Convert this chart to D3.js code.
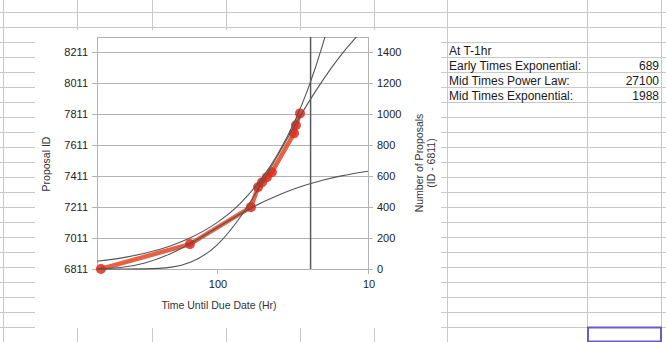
<!DOCTYPE html>
<html>
<head>
<meta charset="utf-8">
<script src="https://cdn.jsdelivr.net/npm/d3@7"></script>
<style>
body { margin: 0; background: #fff; }
svg { display: block; font-family: "Liberation Sans", Arial, sans-serif; }
</style>
</head>
<body>
<div id="dataviz"></div>
<script>
// Donnees
var hours = [587, 151, 59.6, 53.5, 50.3, 46.7, 43.3, 30.9, 30.0, 28.2];
var counts = [0, 161, 400, 529, 561, 594, 626, 877, 929, 1006];

// Courbes de tendance
var earlyExpHours = [623, 400, 300, 200, 150, 100, 70, 50, 40, 30, 20, 15, 10];
var earlyExpVals = [2, 15, 39, 102, 165, 267, 355, 431, 474, 522, 574, 602, 632];
var powerHours = [623, 400, 300, 200, 150, 100, 70, 50, 40, 30, 25, 20, 18];
var powerVals = [50, 77, 102, 152, 202, 300, 425, 591, 735, 973, 1163, 1447, 1604];
var midExpHours = [623, 400, 300, 200, 150, 100, 70, 50, 40, 30, 25, 20, 15, 12, 11.5];
var midExpVals = [0, 0, 1, 12, 43, 155, 336, 562, 727, 941, 1071, 1218, 1386, 1497, 1517];

var markerHour = 24;

var yTicks = [0, 200, 400, 600, 800, 1000, 1200, 1400];
var leftLabels = ["6811", "7011", "7211", "7411", "7611", "7811", "8011", "8211"];
var xTicks = [100, 10];

var tableLabels = ["At T-1hr", "Early Times Exponential:", "Mid Times Power Law:", "Mid Times Exponential:"];
var tableValues = ["", "689", "27100", "1988"];

var width = 666
var height = 342

var svg = d3.select("#dataviz").append("svg")
	.attr("width", width)
	.attr("height", height);

// grille du tableur
var gridColor = "#c8c8c8";
var rowYs = d3.range(12, 343, 15);
var colXs = [3, 77, 152, 226, 300, 374, 447, 587, 661];

svg.append("g").selectAll("line.row")
	.data(rowYs)
	.enter()
	.append("line")
	.attr("x1", 0).attr("x2", width)
	.attr("y1", d => d + 0.5).attr("y2", d => d + 0.5)
	.attr("stroke", gridColor);

svg.append("g").selectAll("line.col")
	.data(colXs)
	.enter()
	.append("line")
	.attr("x1", d => d + 0.5).attr("x2", d => d + 0.5)
	.attr("y1", 0).attr("y2", height)
	.attr("stroke", gridColor);

// tableau de droite
svg.append("g").selectAll("text")
	.data(tableLabels)
	.enter()
	.append("text")
	.attr("x", 449)
	.attr("y", (d, i) => 54.5 + i * 15)
	.attr("font-size", "12px")
	.attr("fill", "#1a1a1a")
	.text(d => d);

svg.append("g").selectAll("text")
	.data(tableValues)
	.enter()
	.append("text")
	.attr("x", 659)
	.attr("y", (d, i) => 54.5 + i * 15)
	.attr("text-anchor", "end")
	.attr("font-size", "12px")
	.attr("fill", "#1a1a1a")
	.text(d => d);

// cellule selectionnee
svg.append("rect")
	.attr("x", 588).attr("y", 327.5)
	.attr("width", 73).attr("height", 14)
	.attr("fill", "none")
	.attr("stroke", "#6b5bc6")
	.attr("stroke-width", 2);

// fond du graphique
svg.append("rect")
	.attr("x", 35).attr("y", 30)
	.attr("width", 406).attr("height", 298)
	.attr("fill", "#fff");

// echelles
var x = d3.scaleLog().domain([623, 10]).range([97, 368]);
var y = d3.scaleLinear().domain([0, 1500]).range([269, 37]);

var chart = svg.append("g");

// lignes de grille
chart.selectAll("line.grid")
	.data(yTicks)
	.enter()
	.append("line")
	.attr("x1", 92).attr("x2", 373)
	.attr("y1", d => Math.round(y(d)) + 0.5)
	.attr("y2", d => Math.round(y(d)) + 0.5)
	.attr("stroke", "#b3b3b3");

chart.append("rect")
	.attr("x", 97.5).attr("y", 37.5)
	.attr("width", 271).attr("height", 232)
	.attr("fill", "none")
	.attr("stroke", "#b3b3b3");

chart.selectAll("line.xtick")
	.data(xTicks)
	.enter()
	.append("line")
	.attr("x1", d => Math.round(x(d)) + 0.5)
	.attr("x2", d => Math.round(x(d)) + 0.5)
	.attr("y1", 269).attr("y2", 274)
	.attr("stroke", "#b3b3b3");

// labels des axes
chart.selectAll("text.left")
	.data(yTicks)
	.enter()
	.append("text")
	.attr("x", 88)
	.attr("y", d => y(d) + 4)
	.attr("text-anchor", "end")
	.attr("font-size", "11px")
	.attr("fill", "#222")
	.text((d, i) => leftLabels[i]);

chart.selectAll("text.right")
	.data(yTicks)
	.enter()
	.append("text")
	.attr("x", 377)
	.attr("y", d => y(d) + 4)
	.attr("font-size", "11px")
	.attr("fill", "#222")
	.text(d => d);

chart.selectAll("text.x")
	.data(xTicks)
	.enter()
	.append("text")
	.attr("x", d => x(d) + 1)
	.attr("y", 288)
	.attr("text-anchor", "middle")
	.attr("font-size", "11px")
	.attr("fill", "#222")
	.text(d => d);

// titres
chart.append("text")
	.attr("transform", "translate(50,164) rotate(-90)")
	.attr("text-anchor", "middle")
	.attr("font-size", "10.5px")
	.attr("fill", "#333")
	.text("Proposal ID");

chart.append("text")
	.attr("x", 219).attr("y", 309)
	.attr("text-anchor", "middle")
	.attr("font-size", "10.5px")
	.attr("fill", "#333")
	.text("Time Until Due Date (Hr)");

chart.append("text")
	.attr("transform", "translate(423,163) rotate(-90)")
	.attr("text-anchor", "middle")
	.attr("font-size", "10.5px")
	.attr("fill", "#333")
	.text("Number of Proposals");

chart.append("text")
	.attr("transform", "translate(435,163) rotate(-90)")
	.attr("text-anchor", "middle")
	.attr("font-size", "10.5px")
	.attr("fill", "#333")
	.text("(ID - 6811)");

// zone de trace avec clip
svg.append("clipPath").attr("id", "clip")
	.append("rect")
	.attr("x", 97).attr("y", 37)
	.attr("width", 272).attr("height", 233);

var plot = chart.append("g").attr("clip-path", "url(#clip)");

// serie rouge
var pts = hours.map((h, i) => ({h: h, v: counts[i]}));
var line = d3.line().x(d => x(d.h)).y(d => y(d.v));

plot.append("path")
	.datum(pts)
	.attr("d", line)
	.attr("fill", "none")
	.attr("stroke", "#e4502e")
	.attr("stroke-width", 4.5)
	.attr("stroke-linejoin", "round")
	.attr("opacity", 0.9);

// points (sans clip)
chart.selectAll("circle")
	.data(pts)
	.enter()
	.append("circle")
	.attr("cx", d => x(d.h))
	.attr("cy", d => y(d.v))
	.attr("r", 5)
	.attr("fill", "#e02a1a")
	.attr("opacity", 0.85);

// tendances
var trendLine = d3.line().curve(d3.curveMonotoneX).x(d => x(d.h)).y(d => y(d.v));
var trends = chart.append("g").attr("clip-path", "url(#clip)");
function trend(hs, vs) {
	var data = hs.map((h, i) => ({h: h, v: vs[i]}));
	trends.append("path")
		.datum(data)
		.attr("d", trendLine)
		.attr("fill", "none")
		.attr("stroke", "#555")
		.attr("stroke-width", 1.1);
}
trend(earlyExpHours, earlyExpVals);
trend(powerHours, powerVals);
trend(midExpHours, midExpVals);

// ligne verticale
trends.append("line")
	.attr("x1", x(markerHour)).attr("x2", x(markerHour))
	.attr("y1", 37).attr("y2", 269)
	.attr("stroke", "#5a5a5a")
	.attr("stroke-width", 1.5);
</script>
</body>
</html>
